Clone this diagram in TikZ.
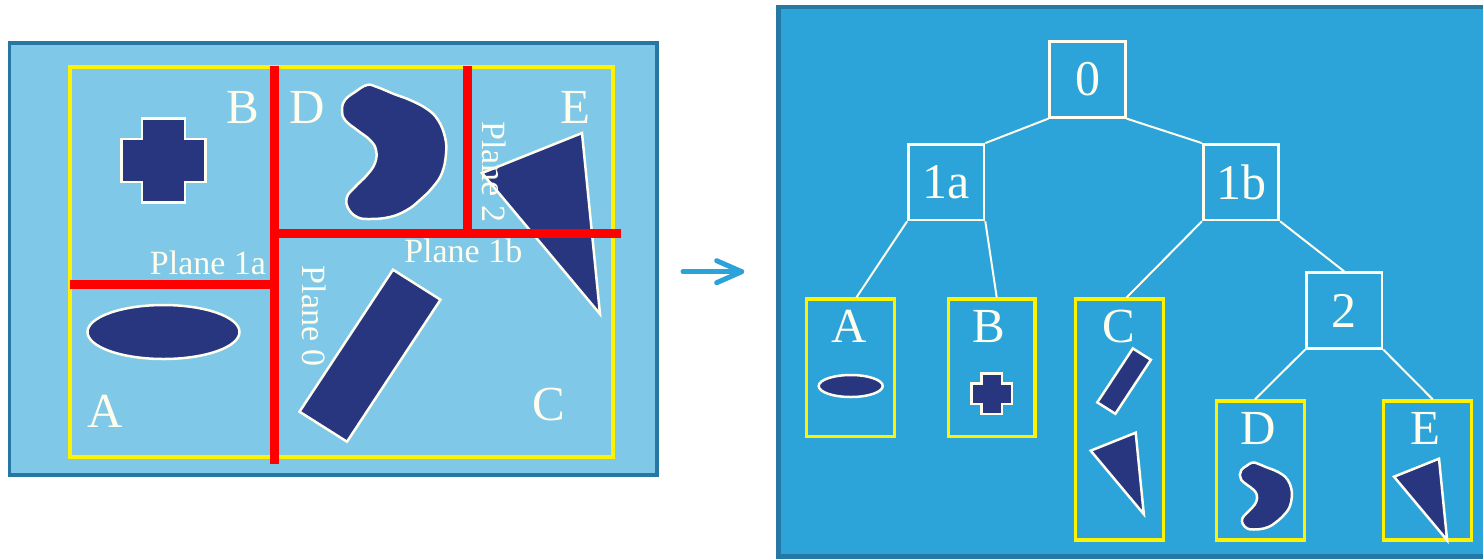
\documentclass[tikz,border=0pt]{standalone}
\usepackage{fontspec}
\setmainfont{Liberation Serif}
\usetikzlibrary{calc}

\definecolor{panelA}{HTML}{80C8E8}
\definecolor{panelB}{HTML}{2CA4D9}
\definecolor{frame}{HTML}{2478A3}
\definecolor{navy}{HTML}{27367F}
\definecolor{cream}{HTML}{FFFDEE}
\definecolor{arrowblue}{HTML}{2BA3D9}

\tikzset{
  shapefill/.style={fill=navy, draw=cream, line width=2.5pt, line join=miter},
  planeline/.style={draw=red, line width=9.5pt},
  bigletter/.style={text=cream, font=\fontsize{49}{49}\selectfont, inner sep=0pt},
  planelabel/.style={text=cream, font=\fontsize{34}{34}\selectfont, inner sep=0pt},
  treebox/.style={draw=cream, line width=2.7pt, minimum width=75.5pt, minimum height=75.5pt,
    inner sep=0pt, text=cream, font=\fontsize{50}{50}\selectfont},
  leafbox/.style={draw=yellow, line width=3.3pt, inner sep=0pt},
  treeedge/.style={draw=cream, line width=2pt},
  arrowstroke/.style={draw=arrowblue, line width=5pt, line cap=round, line join=round},
  % the five object outlines, drawn around their own reference point
  crossshape/.pic={
    \path[shapefill] (-21.5,-42) -- (21.5,-42) -- (21.5,-21.5) -- (42,-21.5) -- (42,21.5)
      -- (21.5,21.5) -- (21.5,42) -- (-21.5,42) -- (-21.5,21.5) -- (-42,21.5)
      -- (-42,-21.5) -- (-21.5,-21.5) -- cycle;},
  barshape/.pic={
    \path[shapefill] (23,-86) -- (70.5,-56) -- (-23,86) -- (-70.5,56) -- cycle;},
  wedgeshape/.pic={
    \path[shapefill] (0,0) -- (100,-40) -- (118,141) -- cycle;},
  blobshape/.pic={
    \path[shapefill] plot[smooth cycle, tension=0.7] coordinates {
      (-27,-67) (-17,-65) (0,-58) (16,-52) (33,-43) (44,-32) (51,-15) (52,2)
      (48,21) (39,35) (26,48) (13,58) (-4,65) (-24,67) (-37,65) (-46,56)
      (-47,45) (-39,35) (-27,23) (-19,11) (-18,-2) (-24,-12) (-37,-22)
      (-49,-32) (-52,-42) (-49,-52) (-39,-60)};},
}

\begin{document}
\begin{tikzpicture}[x=1pt, y=-1pt]
  \useasboundingbox (0,0) rectangle (1483,558);
  \fill[white] (0,0) rectangle (1483,558);

  % ---------- scene with splitting planes ----------
  \path[fill=panelA, draw=frame, line width=3.5pt] (9.5,43) rectangle (657,475);

  \pic (crossB) at (163.3,160.7) {crossshape};
  \path[shapefill] (163.5,332) ellipse [x radius=76pt, y radius=27pt];
  \pic (barC) at (370,355.7) {barshape};
  \pic (wedgeE) at (482,173) {wedgeshape};
  \pic (blobD) at (394,152) {blobshape};

  \draw[yellow, line width=4pt] (70,67) rectangle (612.5,457);

  \draw[planeline] (274.5,66) -- (274.5,464);
  \draw[planeline] (70,284.7) -- (274.5,284.7);
  \draw[planeline] (274.5,233.5) -- (621,233.5);
  \draw[planeline] (467.3,66) -- (467.3,233.5);

  \node[bigletter, anchor=base] (labB) at (243,123) {B};
  \node[bigletter, anchor=base] (labD) at (307.5,123) {D};
  \node[bigletter, anchor=base] (labE) at (575.8,123) {E};
  \node[bigletter, anchor=base] (labA) at (105.5,427) {A};
  \node[bigletter, anchor=base] (labC) at (548.7,420) {C};

  \node[planelabel, anchor=base] (p1a) at (208,274.3) {Plane 1a};
  \node[planelabel, anchor=base] (p1b) at (463.3,262) {Plane 1b};
  \node[planelabel, anchor=base, rotate=-90] (p0) at (302,316.3) {Plane 0};
  \node[planelabel, anchor=base, rotate=-90] (p2) at (482,171.7) {Plane 2};

  % ---------- arrow between the two panels ----------
  \coordinate (arrS) at (683,271.7);
  \coordinate (arrE) at (741.7,271.7);
  \draw[arrowstroke] (arrS) -- (arrE);
  \draw[arrowstroke] (716.7,260.7) -- (arrE) -- (716.7,282.7);

  % ---------- BSP tree ----------
  \path[fill=panelB, draw=frame, line width=4.5pt] (778.3,7) rectangle (1495,556.5);

  \node[treebox] (n0)  at (1087.5,79.5) {0};
  \node[treebox] (n1a) at (946.2,182.2) {1a};
  \node[treebox] (n1b) at (1241,182.2) {1b};
  \node[treebox] (n2)  at (1344.2,310.5) {2};

  \node[leafbox, minimum width=87.7pt, minimum height=137.7pt] (leafA) at (850.5,367.8) {};
  \node[leafbox, minimum width=86.7pt, minimum height=137.7pt] (leafB) at (991.7,367.8) {};
  \node[leafbox, minimum width=88pt, minimum height=241pt] (leafC) at (1119.7,419.5) {};
  \node[leafbox, minimum width=88pt, minimum height=139pt] (leafD) at (1260.5,470.5) {};
  \node[leafbox, minimum width=88pt, minimum height=139pt] (leafE) at (1427.2,470.5) {};

  \draw[treeedge] (n0.south west) -- (n1a.north east);
  \draw[treeedge] (n0.south east) -- (n1b.north west);
  \draw[treeedge] (n1a.south west) -- ([xshift=6pt]leafA.north);
  \draw[treeedge] (n1a.south east) -- ([xshift=5pt]leafB.north);
  \draw[treeedge] (n1b.south west) -- ([xshift=7pt]leafC.north);
  \draw[treeedge] (n1b.south east) -- (n2.north);
  \draw[treeedge] (n2.south west) -- ([xshift=-5.5pt]leafD.north);
  \draw[treeedge] (n2.south east) -- ([xshift=5.5pt]leafE.north);

  \node[bigletter, anchor=base] (tA) at (849,342.7) {A};
  \node[bigletter, anchor=base] (tB) at (988.7,342.7) {B};
  \node[bigletter, anchor=base] (tC) at (1119,342) {C};
  \node[bigletter, anchor=base] (tD) at (1258,444) {D};
  \node[bigletter, anchor=base] (tE) at (1425.5,444) {E};

  \path[shapefill] (850.7,386) ellipse [x radius=32pt, y radius=11pt];
  \pic[scale=0.48] (tcross) at (991.7,393.7) {crossshape};
  \pic[scale=0.38] (tbar) at (1124.1,381.1) {barshape};
  \pic[scale=0.45] (twedgeC) at (1090.7,450.7) {wedgeshape};
  \pic[scale=0.5] (tblob) at (1265.8,496) {blobshape};
  \pic[scale=0.45] (twedgeE) at (1394,476.7) {wedgeshape};
\end{tikzpicture}
\end{document}
